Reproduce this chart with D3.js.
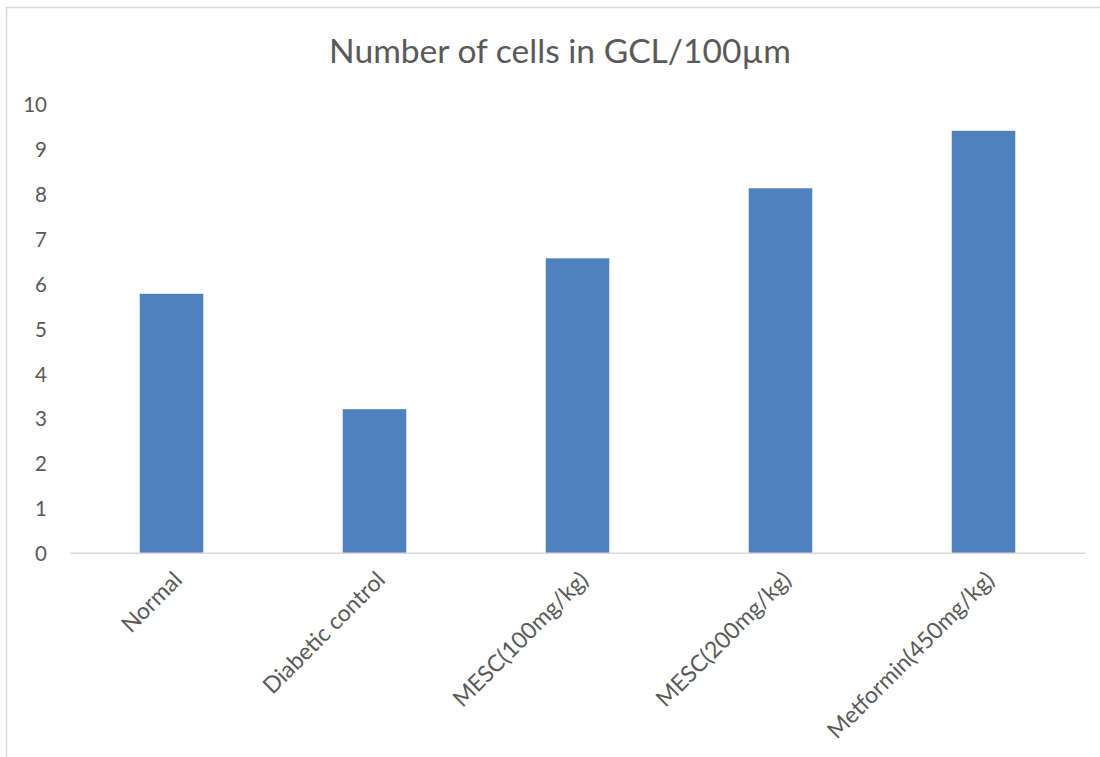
<!DOCTYPE html>
<html>
<head>
<meta charset="utf-8">
<script src="https://cdn.jsdelivr.net/npm/d3@7"></script>
<style>
  html, body { margin: 0; padding: 0; background: #fff; }
  svg { display: block; }
  text { font-family: Lato, "Open Sans", sans-serif; fill: #595959; }
</style>
</head>
<body>
<svg id="chart" width="1100" height="757"></svg>
<script>
// Chart content
const title = "Number of cells in GCL/100µm";
const categories = ["Normal", "Diabetic control", "MESC(100mg/kg)", "MESC(200mg/kg)", "Metformin(450mg/kg)"];
const cellCounts = [5.78, 3.21, 6.57, 8.13, 9.41];
const yTicks = [0, 1, 2, 3, 4, 5, 6, 7, 8, 9, 10];

const svg = d3.select("#chart");

// Chart frame (open at the right and bottom edges of the page)
svg.append("rect")
  .attr("x", 6.5).attr("y", 7.5)
  .attr("width", 1200).attr("height", 900)
  .attr("fill", "none")
  .attr("stroke", "#d9d9d9")
  .attr("stroke-width", 1.5);

const plot = { left: 70, right: 1085, top: 104.3, bottom: 553.3 };

const x = d3.scaleBand()
  .domain(categories)
  .range([plot.left, plot.right])
  .paddingInner(0.687)
  .paddingOuter(0.3435);

const y = d3.scaleLinear()
  .domain([0, 10])
  .range([plot.bottom, plot.top]);

// Title
svg.append("text")
  .attr("x", 560)
  .attr("y", 63)
  .attr("text-anchor", "middle")
  .style("font-size", "33.6px")
  .text(title);

// Bars
svg.append("g")
  .selectAll("rect")
  .data(categories.map((c, i) => ({ c, v: cellCounts[i] })))
  .join("rect")
  .attr("x", d => x(d.c))
  .attr("y", d => y(d.v))
  .attr("width", x.bandwidth())
  .attr("height", d => y(0) - y(d.v))
  .attr("fill", "#4f81bd");

// Y axis labels (no axis line, no ticks)
const yAxis = svg.append("g")
  .attr("transform", `translate(${plot.left - 23},0)`)
  .call(d3.axisLeft(y).tickValues(yTicks).tickSize(0).tickPadding(0).tickFormat(d3.format("d")));
yAxis.select(".domain").remove();
yAxis.selectAll("text")
  .attr("dy", "0.36em")
  .style("font-size", "20.5px")
  .style("font-family", "Lato, 'Open Sans', sans-serif")
  .attr("fill", "#595959");

// X axis baseline
svg.append("line")
  .attr("x1", plot.left).attr("x2", plot.right)
  .attr("y1", y(0)).attr("y2", y(0))
  .attr("stroke", "#d9d9d9")
  .attr("stroke-width", 1.5);

// Rotated category labels
const xAxis = svg.append("g")
  .attr("transform", `translate(0,${y(0)})`)
  .call(d3.axisBottom(x).tickSize(0).tickPadding(0));
xAxis.select(".domain").remove();
xAxis.selectAll("text")
  .attr("text-anchor", "end")
  .attr("dy", null)
  .attr("y", null)
  .attr("transform", "translate(12,28) rotate(-45)")
  .style("font-size", "23px")
  .style("font-family", "Lato, 'Open Sans', sans-serif")
  .attr("fill", "#595959");
</script>
</body>
</html>
